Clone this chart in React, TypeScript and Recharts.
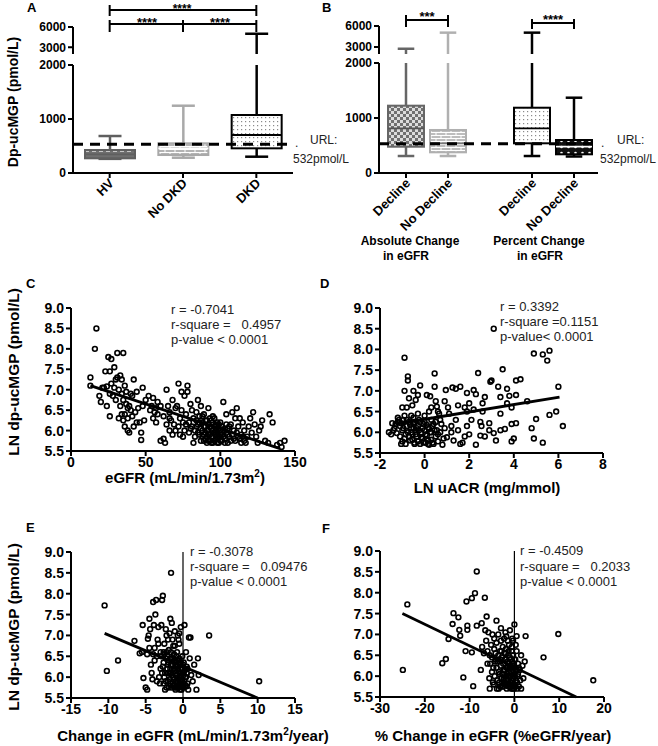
import React from 'react';
import { ComposedChart, Bar, XAxis, YAxis, ReferenceLine, ScatterChart, Scatter } from 'recharts';

const FONT = "'Liberation Sans', Arial, Helvetica, sans-serif";

// ---------- Panel A: box plots ----------
const aGroups = ['HV', 'No DKD', 'DKD'];
const aMin = [262, 283, 302];
const aQ1 = [272, 333, 457];
const aMedian = [346, 457, 704];
const aQ3 = [426, 550, 1074];
const aMax = [685, 1246, 5000];

// ---------- Panel B: box plots ----------
const bKeys = ['absD', 'absN', 'gap', 'pctD', 'pctN'];
const bLabels = ['Decline', 'No Decline', '', 'Decline', 'No Decline'];
const bMin = [309, 309, null, 309, 300];
const bQ1 = [478, 376, null, 540, 340];
const bMedian = [813, 540, null, 813, 478];
const bQ3 = [1224, 782, null, 1187, 600];
const bMax = [2750, 5050, null, 5050, 1369];

const urlValue = 532;
const yTicksLow = [0, 1000, 2000];
const yTicksHigh = [3000, 6000];

// ---------- Scatter panels ----------
const cPoints: [number, number][] = [
  [17, 8.5], [16, 8.0], [13, 7.3], [13, 7.1], [25, 7.8], [27, 7.75], [31, 7.9], [35, 7.9], [23, 7.45], [26, 7.45],
  [29, 7.55], [33, 7.35], [30, 7.25], [34, 7.25], [27, 7.15], [24, 7.08], [22, 7.05], [20, 6.7], [26, 6.9], [28, 6.85],
  [24, 6.6], [26, 6.35], [32, 7.0], [34, 6.9], [36, 7.1], [37, 6.95], [35, 6.75], [37, 6.65], [38, 6.55], [36, 6.4],
  [34, 6.4], [35, 6.25], [36, 6.1], [38, 6.0], [39, 6.6], [41, 6.85], [42, 7.25], [40, 6.5], [40, 6.9], [44, 6.95],
  [43, 6.45], [45, 6.55], [38, 6.3], [46, 6.2], [47, 5.95], [47, 5.77], [48, 7.05], [50, 6.75], [49, 6.25], [52, 6.85],
  [53, 6.5], [54, 6.6], [55, 6.8], [56, 6.45], [57, 6.55], [57, 6.2], [58, 6.4], [60, 6.6], [62, 6.35], [62, 5.8],
  [63, 5.7], [64, 6.15], [64, 7.0], [65, 6.6], [66, 6.45], [66, 6.0], [67, 6.25], [68, 6.75], [69, 6.15], [70, 6.55],
  [71, 6.6], [72, 7.15], [72, 6.1], [73, 5.9], [73, 6.3], [74, 6.95], [75, 6.2], [76, 6.0], [76, 6.85], [77, 6.4],
  [78, 7.1], [78, 6.95], [79, 6.2], [79, 5.95], [80, 6.65], [81, 6.5], [81, 6.1], [82, 5.7], [83, 6.0], [84, 6.25],
  [84, 6.45], [85, 6.15], [85, 6.75], [86, 5.9], [86, 6.35], [87, 6.05], [87, 6.6], [88, 6.2], [88, 5.85], [89, 6.1],
  [89, 6.4], [90, 5.95], [90, 6.25], [90, 5.8], [91, 6.0], [91, 5.7], [92, 6.15], [92, 5.9], [92, 6.55], [93, 5.75],
  [93, 6.3], [94, 6.05], [94, 5.85], [95, 6.2], [95, 5.7], [95, 6.35], [96, 5.95], [96, 6.1], [97, 5.8], [97, 6.0],
  [98, 5.7], [98, 6.2], [99, 6.05], [99, 5.85], [100, 6.0], [100, 5.75], [101, 6.1], [101, 5.9], [102, 6.7], [102, 6.0],
  [103, 5.8], [104, 6.4], [104, 5.95], [105, 6.05], [105, 5.7], [106, 5.85], [107, 6.15], [108, 6.45], [108, 5.9], [109, 6.0],
  [110, 6.3], [110, 5.75], [111, 6.55], [112, 6.1], [112, 5.85], [113, 6.3], [114, 5.9], [114, 5.7], [115, 6.2], [116, 5.75],
  [116, 6.0], [117, 5.7], [118, 5.85], [119, 6.1], [120, 6.3], [121, 5.95], [122, 6.45], [123, 6.15], [124, 5.85], [125, 5.7],
  [126, 6.0], [127, 6.1], [128, 6.25], [130, 5.75], [132, 5.7], [133, 6.4], [135, 6.2], [138, 5.65], [140, 5.7], [143, 5.75],
  [141, 5.6], [60, 5.75], [55, 6.3], [58, 6.7], [48, 6.6], [44, 6.2], [42, 6.1], [41, 6.35], [39, 5.95], [32, 6.3],
  [33, 6.6], [30, 6.75], [29, 7.05], [31, 7.3], [21, 7.05], [19, 6.85],
  [80, 6.05], [82, 6.3], [83, 5.85], [84, 6.1], [85, 5.95], [86, 6.2], [87, 5.75], [88, 6.0], [88, 6.35], [89, 5.75],
  [89, 5.9], [90, 6.1], [91, 6.25], [91, 5.85], [92, 6.0], [92, 5.75], [93, 6.1], [93, 5.9], [94, 5.7], [94, 6.25],
  [95, 5.85], [95, 6.0], [96, 5.75], [96, 6.3], [97, 6.15], [97, 5.9], [98, 5.95], [98, 5.8], [99, 6.15], [99, 5.7],
  [100, 6.2], [100, 5.9], [101, 5.75], [102, 5.85], [103, 6.05], [103, 5.7], [104, 6.15], [105, 5.9], [106, 6.1], [107, 5.75],
  [109, 5.8], [111, 5.95], [113, 5.8], [115, 5.85], [70, 6.0], [68, 5.9], [75, 5.85], [77, 6.15], [74, 6.5], [66, 6.3],
];
const cFit = [{ x: 13, y: 7.1 }, { x: 140, y: 5.56 }];

const dPoints: [number, number][] = [
  [3.1, 8.5], [4.9, 7.9], [5.3, 7.88], [5.6, 7.97], [5.5, 7.73], [-0.9, 7.8], [3.5, 7.52], [2.4, 7.43], [0.45, 7.42], [-0.75, 7.35],
  [-0.75, 7.25], [2.95, 7.22], [3.0, 7.25], [4.3, 7.28], [4.1, 7.25], [6.0, 7.1], [-0.2, 7.13], [0.45, 7.1], [1.25, 7.08], [1.6, 7.1],
  [3.3, 7.1], [3.7, 7.05], [2.2, 7.02], [1.4, 7.05], [0.95, 7.02], [-0.9, 7.0], [-0.5, 7.0], [-0.3, 6.9], [0.1, 6.9], [0.25, 6.87],
  [1.9, 6.95], [2.3, 6.92], [2.7, 6.85], [3.4, 6.85], [3.8, 6.88], [4.1, 6.9], [4.6, 6.75], [3.7, 6.7], [-0.7, 6.82], [-0.4, 6.78],
  [0.5, 6.75], [0.55, 6.62], [0.9, 6.75], [1.5, 6.65], [1.8, 6.6], [2.0, 6.7], [2.6, 6.7], [3.9, 6.6], [-1.0, 6.6], [-0.8, 6.6],
  [-0.55, 6.65], [0.3, 6.6], [0.6, 6.5], [1.1, 6.45], [1.9, 6.5], [2.2, 6.55], [3.4, 6.45], [2.6, 6.5], [5.6, 6.42], [5.9, 6.5],
  [-1.2, 6.35], [-0.9, 6.4], [-0.5, 6.35], [0.0, 6.4], [0.3, 6.3], [0.7, 6.3], [1.4, 6.3], [2.1, 6.3], [2.5, 6.25], [3.9, 6.2],
  [4.1, 6.22], [2.9, 6.22], [2.55, 6.15], [-1.6, 6.0], [-1.5, 5.95], [-1.35, 6.1], [-1.3, 6.2], [-1.2, 6.25], [-1.1, 6.15], [-1.1, 5.9],
  [-1.0, 6.05], [-0.95, 6.3], [-0.9, 5.85], [-0.85, 5.72], [-0.8, 6.15], [-0.75, 6.0], [-0.7, 6.25], [-0.65, 5.8], [-0.6, 6.1], [-0.55, 5.95],
  [-0.5, 6.2], [-0.45, 5.75], [-0.4, 6.05], [-0.35, 5.9], [-0.3, 6.15], [-0.25, 6.3], [-0.2, 5.72], [-0.15, 6.0], [-0.1, 5.85], [-0.05, 6.2],
  [0.0, 6.05], [0.05, 5.75], [0.1, 5.92], [0.15, 6.12], [0.2, 5.7], [0.25, 6.0], [0.3, 5.82], [0.35, 6.15], [0.4, 5.72], [0.45, 6.05],
  [0.5, 5.9], [0.6, 5.78], [0.7, 6.0], [0.8, 5.7], [0.9, 6.1], [1.0, 5.88], [1.2, 6.0], [1.3, 5.8], [1.5, 6.05], [1.6, 5.72],
  [1.7, 5.75], [1.8, 5.9], [1.9, 6.15], [2.0, 5.95], [2.3, 5.7], [2.5, 5.92], [2.7, 5.9], [2.9, 6.05], [3.1, 5.98], [3.2, 5.8],
  [3.4, 6.05], [3.6, 6.08], [3.9, 5.78], [4.0, 5.85], [4.8, 6.1], [4.9, 5.85], [5.0, 6.32], [5.3, 5.75], [6.2, 6.15], [1.2, 6.15],
  [-1.45, 6.22], [-1.0, 5.78], [0.65, 6.45], [1.05, 6.6],
  [-1.4, 6.05], [-1.25, 5.98], [-1.15, 6.3], [-1.05, 6.22], [-0.95, 6.1], [-0.85, 5.95], [-0.8, 6.3], [-0.7, 5.9], [-0.65, 6.18], [-0.6, 6.0],
  [-0.55, 5.82], [-0.5, 6.1], [-0.45, 6.25], [-0.4, 5.95], [-0.35, 6.1], [-0.3, 5.78], [-0.25, 6.05], [-0.2, 6.25], [-0.15, 5.88], [-0.1, 6.1],
  [-0.05, 5.75], [0.0, 6.25], [0.05, 5.95], [0.1, 6.18], [0.15, 5.8], [0.2, 6.08], [0.3, 6.0], [0.35, 5.75], [0.4, 6.2], [0.55, 6.05],
  [0.6, 5.95], [0.75, 6.2], [0.85, 5.85], [-0.6, 6.4], [-0.3, 6.45], [0.2, 6.5], [-1.05, 5.72], [-0.45, 5.72], [0.15, 5.72], [0.5, 6.25],
];
const dFit = [{ x: -1.3, y: 6.2 }, { x: 6.05, y: 6.85 }];

const ePoints: [number, number][] = [
  [-10.5, 7.72], [-10.2, 6.15], [-8.7, 6.4], [-6.5, 6.87], [-5.8, 6.57], [-5.5, 6.6], [-5.4, 7.25], [-5.3, 5.98], [-5.0, 5.75], [-4.8, 5.7],
  [-4.8, 6.55], [-4.7, 6.92], [-4.5, 7.4], [-4.4, 7.15], [-4.3, 6.3], [-4.2, 6.1], [-4.1, 5.95], [-4.0, 7.8], [-3.9, 7.25], [-3.8, 6.7],
  [-3.7, 7.5], [-3.6, 7.85], [-3.5, 6.5], [-3.4, 6.9], [-3.3, 7.2], [-3.2, 6.0], [-3.1, 5.85], [-3.0, 6.6], [-2.9, 7.25], [-2.8, 7.85],
  [-2.7, 7.95], [-2.6, 6.35], [-2.5, 6.8], [-2.4, 5.7], [-2.3, 6.45], [-2.2, 7.0], [-2.1, 6.2], [-2.0, 5.9], [-1.9, 6.65], [-1.8, 7.05],
  [-1.7, 7.4], [-1.6, 8.5], [-1.6, 6.1], [-1.5, 7.3], [-1.5, 5.75], [-1.4, 6.9], [-1.4, 6.3], [-1.3, 6.0], [-1.2, 6.55], [-1.2, 5.8],
  [-1.1, 6.75], [-1.1, 6.15], [-1.0, 5.7], [-1.0, 6.4], [-0.9, 6.05], [-0.9, 5.9], [-0.8, 6.6], [-0.8, 6.25], [-0.7, 5.75], [-0.7, 7.0],
  [-0.6, 6.15], [-0.6, 5.95], [-0.5, 6.45], [-0.5, 6.8], [-0.4, 5.85], [-0.4, 6.3], [-0.3, 6.0], [-0.3, 7.2], [-0.2, 6.2], [-0.2, 5.7],
  [-0.1, 6.5], [0.0, 6.1], [0.0, 5.85], [0.1, 6.35], [0.2, 7.25], [0.3, 6.0], [0.4, 6.6], [0.5, 5.78], [0.6, 6.2], [0.8, 6.95],
  [0.9, 6.45], [1.0, 6.95], [1.1, 6.05], [1.3, 5.9], [1.5, 6.3], [1.8, 5.7], [2.0, 6.45], [2.1, 6.05], [3.5, 7.0], [10.2, 5.9],
  [-2.5, 6.0], [-2.0, 6.3], [-3.0, 6.2], [-3.5, 5.9], [-1.8, 5.95], [-1.3, 6.75], [-0.8, 5.8], [-2.8, 6.1], [-2.2, 6.6], [-1.7, 6.45],
  [-4.5, 6.7], [-4.0, 6.55], [-3.3, 6.8], [-2.0, 6.9], [-0.6, 6.9], [-0.1, 5.95], [-0.3, 5.8], [0.2, 5.9], [-1.9, 5.75], [-2.6, 5.85],
  [-1.2, 6.2], [-0.9, 6.5], [-1.6, 6.6], [-0.4, 6.1], [-1.0, 6.1], [0.5, 6.25], [-3.8, 6.4], [-4.6, 7.0], [-2.3, 7.15], [-0.5, 7.05],
  [-1.1, 7.1],
  [-2.9, 6.5], [-2.7, 6.25], [-2.5, 6.55], [-2.4, 6.1], [-2.3, 5.9], [-2.1, 6.5], [-2.0, 6.1], [-1.9, 6.35], [-1.8, 6.1], [-1.7, 5.85],
  [-1.6, 6.3], [-1.5, 6.05], [-1.5, 6.45], [-1.4, 5.8], [-1.3, 6.2], [-1.3, 6.45], [-1.2, 5.95], [-1.1, 5.75], [-1.1, 6.35], [-1.0, 5.9],
  [-1.0, 6.25], [-0.9, 5.75], [-0.9, 6.3], [-0.8, 6.05], [-0.8, 6.4], [-0.7, 5.9], [-0.7, 6.2], [-0.6, 5.75], [-0.6, 6.4], [-0.5, 6.0],
  [-0.5, 5.8], [-0.4, 6.2], [-0.4, 5.7], [-0.3, 6.35], [-0.2, 5.9], [-0.2, 6.05], [-0.1, 6.2], [-0.1, 5.75], [0.0, 6.3], [0.1, 5.75],
  [0.1, 6.05], [0.2, 6.15], [0.3, 5.8], [0.4, 6.0], [0.5, 6.1], [0.6, 5.85], [0.7, 5.7], [-1.7, 6.2], [-2.2, 5.75], [-2.6, 6.6],
];
const eFit = [{ x: -10.5, y: 7.05 }, { x: 10, y: 5.5 }];

const fPoints: [number, number][] = [
  [-24.9, 6.15], [-23.9, 7.72], [-8.4, 8.51], [-10.7, 7.79], [-8.8, 7.99], [-9.5, 7.87], [-6.6, 7.88], [-13.6, 7.51], [-12.5, 7.41], [-13.8, 7.25],
  [-14.7, 6.89], [-15.3, 6.41], [-16.1, 6.31], [-11.4, 5.97], [-9.2, 5.76], [-10.5, 7.21], [-12.3, 7.11], [-10.5, 7.11], [-8.4, 7.21], [-10.9, 6.6],
  [-9.5, 6.57], [-12.1, 6.97], [-7.3, 7.27], [-6.2, 7.43], [-4.0, 7.33], [6.5, 6.45], [9.8, 7.01], [17.6, 5.9], [0.0, 7.24], [0.5, 6.96],
  [2.5, 6.96], [-7.5, 6.15], [-7.2, 6.7], [-6.8, 6.55], [-6.5, 7.1], [-6.3, 6.85], [-6.0, 6.6], [-5.8, 7.05], [-5.6, 5.95], [-5.5, 5.7],
  [-5.4, 6.3], [-5.2, 6.75], [-5.0, 6.45], [-4.9, 7.0], [-4.7, 6.2], [-4.5, 6.9], [-4.4, 6.0], [-4.2, 6.55], [-4.0, 6.8], [-3.9, 5.7],
  [-3.8, 6.35], [-3.6, 7.0], [-3.5, 6.1], [-3.4, 5.85], [-3.2, 6.6], [-3.0, 6.25], [-2.9, 5.95], [-2.8, 6.45], [-2.6, 6.7], [-2.5, 5.75],
  [-2.4, 6.15], [-2.3, 6.9], [-2.2, 6.0], [-2.1, 6.4], [-2.0, 5.8], [-1.9, 6.55], [-1.8, 6.2], [-1.7, 5.7], [-1.6, 6.05], [-1.5, 6.35],
  [-1.4, 5.9], [-1.3, 6.6], [-1.2, 6.1], [-1.1, 5.75], [-1.0, 6.45], [-0.9, 6.0], [-0.8, 6.25], [-0.7, 5.85], [-0.6, 6.7], [-0.5, 6.15],
  [-0.4, 5.7], [-0.3, 6.5], [-0.2, 5.95], [-0.1, 6.3], [0.0, 6.05], [0.1, 5.8], [0.2, 6.4], [0.3, 6.2], [0.4, 5.9], [0.5, 6.6],
  [0.7, 6.0], [0.8, 6.3], [1.0, 5.75], [1.2, 6.15], [1.5, 6.5], [1.8, 6.25], [2.0, 5.95], [2.3, 6.35], [1.5, 5.7], [-1.0, 7.1],
  [-2.0, 7.05], [-3.0, 7.15], [-1.5, 6.85], [-0.5, 6.9], [-4.5, 6.65], [-5.5, 6.5], [-6.0, 6.3], [-3.5, 6.4], [-2.7, 6.05], [-1.2, 6.75],
  [-0.8, 5.75], [-2.2, 5.85], [-3.2, 5.75], [-4.8, 5.85], [0.6, 5.7], [-1.8, 6.95], [0.3, 6.75], [-0.3, 6.85],
  [-5.0, 6.1], [-4.6, 5.8], [-4.3, 6.35], [-4.0, 6.2], [-3.8, 5.9], [-3.6, 6.5], [-3.3, 6.05], [-3.1, 6.4], [-2.9, 6.6], [-2.7, 5.85],
  [-2.5, 6.3], [-2.4, 5.95], [-2.2, 6.55], [-2.1, 6.15], [-1.9, 5.9], [-1.8, 6.4], [-1.7, 6.0], [-1.6, 5.8], [-1.5, 6.2], [-1.4, 6.5],
  [-1.3, 5.75], [-1.2, 6.3], [-1.1, 6.0], [-1.0, 5.85], [-1.0, 6.2], [-0.9, 6.4], [-0.8, 5.7], [-0.7, 6.1], [-0.6, 5.9], [-0.5, 6.35],
  [-0.4, 6.0], [-0.3, 5.8], [-0.2, 6.2], [-0.1, 5.7], [0.0, 6.4], [0.1, 6.0], [0.2, 5.75], [0.4, 6.15], [0.6, 5.85], [0.8, 6.05],
  [1.0, 6.2], [1.3, 5.9], [-3.5, 5.7], [-2.8, 5.75], [-0.6, 6.6], [-1.9, 6.65], [-4.2, 6.4], [-3.0, 6.85],
];
const fFit = [{ x: -25, y: 7.5 }, { x: 13.8, y: 5.5 }];

const lnTicks = [5.5, 6.0, 6.5, 7.0, 7.5, 8.0, 8.5, 9.0];

// ---------- styles (kept apart from data) ----------
const aStyles = [
  { fill: 'url(#pHV)', stroke: '#5f5f5f', whisker: '#5f5f5f', median: '#5f5f5f' },
  { fill: 'url(#pBrickA)', stroke: '#a9a9a9', whisker: '#a9a9a9', median: '#ffffff' },
  { fill: 'url(#pDotsA)', stroke: '#000', whisker: '#000', median: '#000' },
];
const bStyles = [
  { fill: 'url(#pCheck)', stroke: '#666', whisker: '#666', median: '#555' },
  { fill: 'url(#pBrickB)', stroke: '#b0b0b0', whisker: '#b0b0b0', median: '#777' },
  null,
  { fill: 'url(#pDotsB)', stroke: '#000', whisker: '#000', median: '#000' },
  { fill: 'url(#pBlack)', stroke: '#000', whisker: '#000', median: '#fff' },
];

const BREAK = 2000;

const aRows = aGroups.map((g, i) => ({
  key: g,
  label: g,
  box: [aQ1[i], aQ3[i]],
  upper: aMax[i] > BREAK ? [BREAK, aMax[i]] : undefined,
  min: aMin[i], q1: aQ1[i], median: aMedian[i], q3: aQ3[i], max: aMax[i],
  st: aStyles[i],
}));

const bRows = bKeys.map((k, i) => ({
  key: k,
  label: bLabels[i],
  box: bQ1[i] == null ? undefined : [bQ1[i], bQ3[i]],
  upper: bMax[i] != null && (bMax[i] as number) > BREAK ? [BREAK, bMax[i]] : undefined,
  min: bMin[i], q1: bQ1[i], median: bMedian[i], q3: bQ3[i], max: bMax[i],
  st: bStyles[i],
}));

const BoxShape = (props: any) => {
  const { x, y, width, height, payload } = props;
  if (!payload || payload.q1 == null || height == null || !isFinite(height)) return null;
  const { q1, q3, median, min, max, st } = payload;
  const ppu = height / (q3 - q1);
  const yMed = y + (q3 - median) * ppu;
  const yMin = y + height + (q1 - min) * ppu;
  const top = Math.min(max, BREAK);
  const yMax = y - (top - q3) * ppu;
  const cx = x + width / 2;
  const cap = width * 0.46;
  return (
    <g>
      <line x1={cx} x2={cx} y1={y} y2={yMax} stroke={st.whisker} strokeWidth={2.5} />
      {max <= BREAK && <line x1={cx - cap / 2} x2={cx + cap / 2} y1={yMax} y2={yMax} stroke={st.whisker} strokeWidth={2.5} />}
      <line x1={cx} x2={cx} y1={y + height} y2={yMin} stroke={st.whisker} strokeWidth={2.5} />
      <line x1={cx - cap / 2} x2={cx + cap / 2} y1={yMin} y2={yMin} stroke={st.whisker} strokeWidth={2.5} />
      <rect x={x} y={y} width={width} height={height} fill={st.fill} stroke={st.stroke} strokeWidth={2} />
      <line x1={x} x2={x + width} y1={yMed} y2={yMed} stroke={st.median} strokeWidth={1.8} />
    </g>
  );
};

const UpperShape = (props: any) => {
  const { x, y, width, height, payload } = props;
  if (!payload || payload.upper == null || height == null) return null;
  const cx = x + width / 2;
  const cap = width * 0.46;
  const st = payload.st;
  return (
    <g>
      <line x1={cx} x2={cx} y1={y + height} y2={y} stroke={st.whisker} strokeWidth={2.5} />
      <line x1={cx - cap / 2} x2={cx + cap / 2} y1={y} y2={y} stroke={st.whisker} strokeWidth={2.5} />
    </g>
  );
};

const AngledTick = (props: any) => {
  const { x, y, payload, rows } = props;
  const row = rows.find((r: any) => r.key === payload.value);
  const label = row ? row.label : payload.value;
  if (!label) return null;
  return (
    <g transform={`translate(${x},${y})`}>
      <line x1={0} x2={0} y1={0} y2={5} stroke="#000" strokeWidth={2} />
      <text transform="translate(5,11) rotate(-45)" textAnchor="end" fontFamily={FONT} fontWeight="bold" fontSize={13} fill="#000">
        {label}
      </text>
    </g>
  );
};

const axisLine = { stroke: '#000', strokeWidth: 2 };
const tickLine = { stroke: '#000', strokeWidth: 2 };
const boxTick = { fontSize: 12, fontWeight: 'bold', fill: '#000', fontFamily: FONT };
const scatTick = { fontSize: 14, fontWeight: 'bold', fill: '#000', fontFamily: FONT };

const Patterns = () => (
  <defs>
    <pattern id="pHV" width="7" height="9" patternUnits="userSpaceOnUse">
      <rect width="7" height="9" fill="#6f6f6f" />
      <rect x="1" y="4" width="4" height="1.6" fill="#fff" />
    </pattern>
    <pattern id="pBrickA" width="10" height="6" patternUnits="userSpaceOnUse">
      <rect width="10" height="6" fill="#b4b4b4" />
      <path d="M0 0.5H10M0 3.5H10M2 0.5V3.5M7 3.5V6" stroke="#fff" strokeWidth="1" />
    </pattern>
    <pattern id="pBrickB" width="10" height="6" patternUnits="userSpaceOnUse">
      <rect width="10" height="6" fill="#bdbdbd" />
      <path d="M0 0.5H10M0 3.5H10M2 0.5V3.5M7 3.5V6" stroke="#fff" strokeWidth="1" />
    </pattern>
    <pattern id="pDotsA" width="4" height="4" patternUnits="userSpaceOnUse">
      <rect width="4" height="4" fill="#fff" />
      <rect x="1" y="1" width="1.2" height="1.2" fill="#8a8a8a" />
    </pattern>
    <pattern id="pDotsB" width="4" height="4" patternUnits="userSpaceOnUse">
      <rect width="4" height="4" fill="#fff" />
      <rect x="1" y="1" width="1.2" height="1.2" fill="#8a8a8a" />
    </pattern>
    <pattern id="pCheck" width="6" height="6" patternUnits="userSpaceOnUse">
      <rect width="6" height="6" fill="#707070" />
      <rect x="0" y="0" width="3" height="3" fill="#dcdcdc" />
      <rect x="3" y="3" width="3" height="3" fill="#dcdcdc" />
    </pattern>
    <pattern id="pBlack" width="7" height="6" patternUnits="userSpaceOnUse">
      <rect width="7" height="6" fill="#111" />
      <circle cx="3.5" cy="3" r="1.3" fill="#fff" />
    </pattern>
  </defs>
);

const Dot = (props: any) => {
  const { cx, cy } = props;
  if (cx == null || cy == null) return null;
  return <circle cx={cx} cy={cy} r={2.4} fill="none" stroke="#000" strokeWidth={1.6} />;
};

type ScatProps = {
  left: number; top: number; plotW: number; plotH: number;
  points: [number, number][]; fit: { x: number; y: number }[];
  xDomain: [number, number]; xTicks: number[]; zeroLine?: boolean;
};

const ScatterPanel = ({ left, top, plotW, plotH, points, fit, xDomain, xTicks, zeroLine }: ScatProps) => {
  const data = points.map(([x, y]) => ({ x, y }));
  return (
    <div style={{ position: 'absolute', left, top }}>
      <ScatterChart width={45 + plotW + 18} height={10 + plotH + 30} margin={{ top: 10, right: 18, bottom: 0, left: 0 }}>
        <XAxis type="number" dataKey="x" domain={xDomain} ticks={xTicks} allowDataOverflow interval={0}
          axisLine={axisLine} tickLine={tickLine} tickSize={5} tickMargin={1} tick={scatTick} height={30} />
        <YAxis type="number" dataKey="y" domain={[5.5, 9]} ticks={lnTicks} allowDataOverflow interval={0}
          axisLine={axisLine} tickLine={tickLine} tickSize={5} tick={scatTick} width={45}
          tickFormatter={(v: number) => v.toFixed(1)} />
        {zeroLine && <ReferenceLine x={0} stroke="#000" strokeWidth={1.2} />}
        <Scatter data={data} shape={<Dot />} isAnimationActive={false} />
        <ReferenceLine segment={fit} stroke="#000" strokeWidth={2.8} ifOverflow="visible" />
      </ScatterChart>
    </div>
  );
};

type BoxProps = {
  left: number; rows: any[]; plotW: number; lowTop: number; lowH: number; upTop: number; upH: number;
  barSize: number; padding: { left: number; right: number }; brackets: { from: string; to: string; level: number; end1: number; end2: number }[];
};

const BoxPanel = ({ left, rows, plotW, lowTop, lowH, upTop, upH, barSize, padding, brackets }: BoxProps) => (
  <>
    <div style={{ position: 'absolute', left, top: 0 }}>
      <ComposedChart width={45 + plotW + 5} height={upTop + upH} data={rows} margin={{ top: upTop, right: 5, bottom: 0, left: 0 }}>
        <XAxis dataKey="key" type="category" hide padding={padding} />
        <YAxis type="number" domain={[BREAK, 6000]} ticks={yTicksHigh} allowDataOverflow interval={0}
          axisLine={axisLine} tickLine={tickLine} tickSize={5} tick={boxTick} width={45} />
        <Bar dataKey="upper" barSize={barSize} shape={<UpperShape />} isAnimationActive={false} />
        {brackets.map((b, i) => (
          <ReferenceLine key={'h' + i} segment={[{ x: b.from, y: b.level }, { x: b.to, y: b.level }]} stroke="#000" strokeWidth={2} ifOverflow="visible" />
        ))}
        {brackets.map((b, i) => (
          <ReferenceLine key={'l' + i} segment={[{ x: b.from, y: b.end1 }, { x: b.from, y: b.end2 }]} stroke="#000" strokeWidth={2} ifOverflow="visible" />
        ))}
        {brackets.map((b, i) => (
          <ReferenceLine key={'r' + i} segment={[{ x: b.to, y: b.end1 }, { x: b.to, y: b.end2 }]} stroke="#000" strokeWidth={2} ifOverflow="visible" />
        ))}
      </ComposedChart>
    </div>
    <div style={{ position: 'absolute', left, top: lowTop - 9 }}>
      <ComposedChart width={45 + plotW + 5} height={9 + lowH + 75} data={rows} margin={{ top: 9, right: 5, bottom: 0, left: 0 }}>
        <Patterns />
        <XAxis dataKey="key" type="category" padding={padding} axisLine={axisLine} tickLine={false} tickSize={0} tickMargin={0}
          height={75} interval={0} tick={<AngledTick rows={rows} />} />
        <YAxis type="number" domain={[0, BREAK]} ticks={yTicksLow} allowDataOverflow interval={0}
          axisLine={axisLine} tickLine={tickLine} tickSize={5} tick={boxTick} width={45} />
        <Bar dataKey="box" barSize={barSize} shape={<BoxShape />} isAnimationActive={false} />
        <ReferenceLine y={urlValue} stroke="#000" strokeWidth={3.2} strokeDasharray="10 7" />
      </ComposedChart>
    </div>
  </>
);

const T = (p: any) => <text fontFamily={FONT} {...p} />;

export default function App() {
  // bracket levels (in upper-axis units) for the significance annotations
  const aBrackets = [
    { from: 'HV', to: 'DKD', level: 8520, end1: 9260, end2: 7630 },
    { from: 'HV', to: 'No DKD', level: 6440, end1: 7040, end2: 5260 },
    { from: 'No DKD', to: 'DKD', level: 6440, end1: 7040, end2: 5260 },
  ];
  const bBrackets = [
    { from: 'absD', to: 'absN', level: 6860, end1: 7570, end2: 5860 },
    { from: 'pctD', to: 'pctN', level: 6430, end1: 7000, end2: 5570 },
  ];
  const lab = { fontFamily: FONT, fontWeight: 'bold' as const, fill: '#000' };
  const stat = { fontFamily: FONT, fontSize: 13, fill: '#222', style: { whiteSpace: 'pre' as const } };
  return (
    <div style={{ position: 'absolute', left: 0, top: 0, width: 658, height: 746, background: '#fff', overflow: 'hidden' }}>
      <BoxPanel left={28} rows={aRows} plotW={220} lowTop={65} lowH={108} upTop={27} upH={27} barSize={50}
        padding={{ left: 0, right: 0 }} brackets={aBrackets} />
      <BoxPanel left={334} rows={bRows} plotW={219} lowTop={63} lowH={110} upTop={26} upH={28} barSize={36}
        padding={{ left: 6, right: 3 }} brackets={bBrackets} />

      <ScatterPanel left={26} top={298} plotW={224} plotH={143} points={cPoints} fit={cFit} xDomain={[0, 150]} xTicks={[0, 50, 100, 150]} />
      <ScatterPanel left={335} top={298} plotW={223} plotH={145} points={dPoints} fit={dFit} xDomain={[-2, 8]} xTicks={[-2, 0, 2, 4, 6, 8]} />
      <ScatterPanel left={26} top={542} plotW={224} plotH={146} points={ePoints} fit={eFit} xDomain={[-15, 15]} xTicks={[-15, -10, -5, 0, 5, 10, 15]} zeroLine />
      <ScatterPanel left={335} top={541} plotW={224} plotH={146} points={fPoints} fit={fFit} xDomain={[-30, 20]} xTicks={[-30, -20, -10, 0, 10, 20]} zeroLine />

      <svg width={658} height={746} style={{ position: 'absolute', left: 0, top: 0, pointerEvents: 'none' }}>
        {/* panel letters */}
        <T x={27} y={12} fontSize={13} fontWeight="bold">A</T>
        <T x={322} y={12} fontSize={13} fontWeight="bold">B</T>
        <T x={26} y={288} fontSize={13} fontWeight="bold">C</T>
        <T x={320} y={288} fontSize={13} fontWeight="bold">D</T>
        <T x={26} y={532} fontSize={13} fontWeight="bold">E</T>
        <T x={322} y={533} fontSize={13} fontWeight="bold">F</T>

        {/* significance stars */}
        <T x={182} y={13} fontSize={12} fontWeight="bold" textAnchor="middle">****</T>
        <T x={147} y={27} fontSize={13} fontWeight="bold" textAnchor="middle">****</T>
        <T x={220} y={27} fontSize={13} fontWeight="bold" textAnchor="middle">****</T>
        <T x={427} y={21} fontSize={13} fontWeight="bold" textAnchor="middle">***</T>
        <T x={553} y={24} fontSize={13} fontWeight="bold" textAnchor="middle">****</T>

        {/* URL labels */}
        <T x={295} y={147} fontSize={12} fill="#222">.</T>
        <T x={310} y={144} fontSize={12} fill="#222">URL:</T>
        <T x={293} y={163} fontSize={12} fill="#222">532pmol/L</T>
        <T x={601} y={147} fontSize={12} fill="#222">.</T>
        <T x={617} y={144} fontSize={12} fill="#222">URL:</T>
        <T x={600} y={163} fontSize={12} fill="#222">532pmol/L</T>

        {/* B group labels */}
        <T x={410} y={245} fontSize={12} {...lab} textAnchor="middle">Absolute Change</T>
        <T x={406} y={260} fontSize={12} {...lab} textAnchor="middle">in eGFR</T>
        <T x={539} y={245} fontSize={12} {...lab} textAnchor="middle">Percent Change</T>
        <T x={540} y={260} fontSize={12} {...lab} textAnchor="middle">in eGFR</T>

        {/* y labels */}
        <T transform="translate(13,102) rotate(-90)" fontSize={14} {...lab} textAnchor="middle" dominantBaseline="central">Dp-ucMGP (pmol/L)</T>
        <T transform="translate(13,372) rotate(-90)" fontSize={15.5} {...lab} textAnchor="middle" dominantBaseline="central">LN dp-ucMGP (pmol/L)</T>
        <T transform="translate(13,627) rotate(-90)" fontSize={15.5} {...lab} textAnchor="middle" dominantBaseline="central">LN dp-ucMGP (pmol/L)</T>

        {/* x labels */}
        <T x={185} y={483} fontSize={15} {...lab} textAnchor="middle">eGFR (mL/min/1.73m<tspan dy={-6} fontSize={10}>2</tspan><tspan dy={6}>)</tspan></T>
        <T x={487} y={493} fontSize={15} {...lab} textAnchor="middle">LN uACR (mg/mmol)</T>
        <T x={193} y={741} fontSize={15} {...lab} textAnchor="middle">Change in eGFR (mL/min/1.73m<tspan dy={-6} fontSize={10}>2</tspan><tspan dy={6}>/year)</tspan></T>
        <T x={493} y={741} fontSize={15} {...lab} textAnchor="middle">% Change in eGFR (%eGFR/year)</T>

        {/* stats */}
        <T x={171} y={314} {...stat}>r = -0.7041</T>
        <T x={171} y={329} {...stat}>r-square =   0.4957</T>
        <T x={171} y={344} {...stat}>p-value &lt; 0.0001</T>
        <T x={500} y={311} {...stat}>r = 0.3392</T>
        <T x={500} y={326} {...stat}>r-square =0.1151</T>
        <T x={500} y={341} {...stat}>p-value&lt; 0.0001</T>
        <T x={190} y={556} {...stat}>r = -0.3078</T>
        <T x={190} y={571} {...stat}>r-square =   0.09476</T>
        <T x={190} y={586} {...stat}>p-value &lt; 0.0001</T>
        <T x={520} y={555} {...stat}>r = -0.4509</T>
        <T x={520} y={571} {...stat}>r-square =   0.2033</T>
        <T x={520} y={586} {...stat}>p-value &lt; 0.0001</T>
      </svg>
    </div>
  );
}
